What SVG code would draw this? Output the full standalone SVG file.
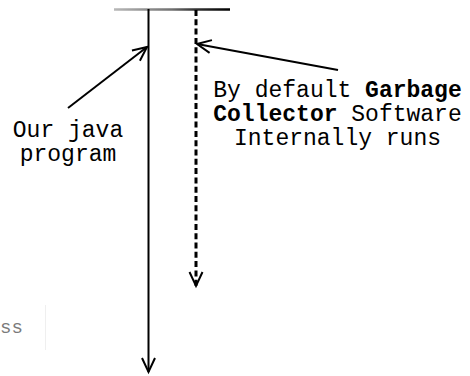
<svg xmlns="http://www.w3.org/2000/svg" width="470" height="376" viewBox="0 0 470 376">
  <style>
    .lbl { font-family: "Liberation Mono", "Courier New", monospace; font-size: 23px; fill: #000; }
    .b { font-weight: bold; }
    .ln { stroke: #000; stroke-width: 2; fill: none; }
    .dash { stroke: #000; stroke-width: 3; stroke-dasharray: 6 3.3; fill: none; }
  </style>
  <defs>
    <linearGradient id="topg" x1="114" y1="0" x2="230" y2="0" gradientUnits="userSpaceOnUse">
      <stop offset="0" stop-color="#b8b8b8"/>
      <stop offset="0.5" stop-color="#707070"/>
      <stop offset="0.7" stop-color="#333"/>
      <stop offset="1" stop-color="#000"/>
    </linearGradient>
    <marker id="open" markerUnits="userSpaceOnUse" markerWidth="20" markerHeight="20" viewBox="-16 -10 20 20" refX="0" refY="0" orient="auto">
      <path d="M -14 -6.5 L 0 0 L -14 6.5" fill="none" stroke="#000" stroke-width="2" stroke-dasharray="none"/>
    </marker>
  </defs>

  <g id="topbar">
    <line x1="114" y1="9.5" x2="230" y2="9.5" stroke="url(#topg)" stroke-width="2.5"/>
  </g>

  <g id="connectors">
    <line class="ln" x1="148.5" y1="9" x2="148.5" y2="372" marker-end="url(#open)"/>
    <line class="dash" x1="196" y1="10" x2="196" y2="286" marker-end="url(#open)"/>
    <line class="ln" x1="68" y1="108" x2="147" y2="47" marker-end="url(#open)"/>
    <line class="ln" x1="338" y1="70" x2="197" y2="44" marker-end="url(#open)"/>
  </g>

  <g id="java-program">
    <text class="lbl" text-anchor="middle" x="68" y="137">Our java</text>
    <text class="lbl" text-anchor="middle" x="68" y="161">program</text>
  </g>

  <g id="garbage-collector">
    <text class="lbl" text-anchor="middle" x="337.5" y="97">By default <tspan class="b">Garbage</tspan></text>
    <text class="lbl" text-anchor="middle" x="337.5" y="121"><tspan class="b">Collector</tspan> Software</text>
    <text class="lbl" text-anchor="middle" x="337.5" y="145">Internally runs</text>
  </g>

  <g id="fragment">
    <text x="0" y="333" font-family="Liberation Mono, monospace" font-size="19" fill="#7a7a7a">ss</text>
    <line x1="45.5" y1="305" x2="45.5" y2="350" stroke="#efefef" stroke-width="1"/>
  </g>
</svg>
